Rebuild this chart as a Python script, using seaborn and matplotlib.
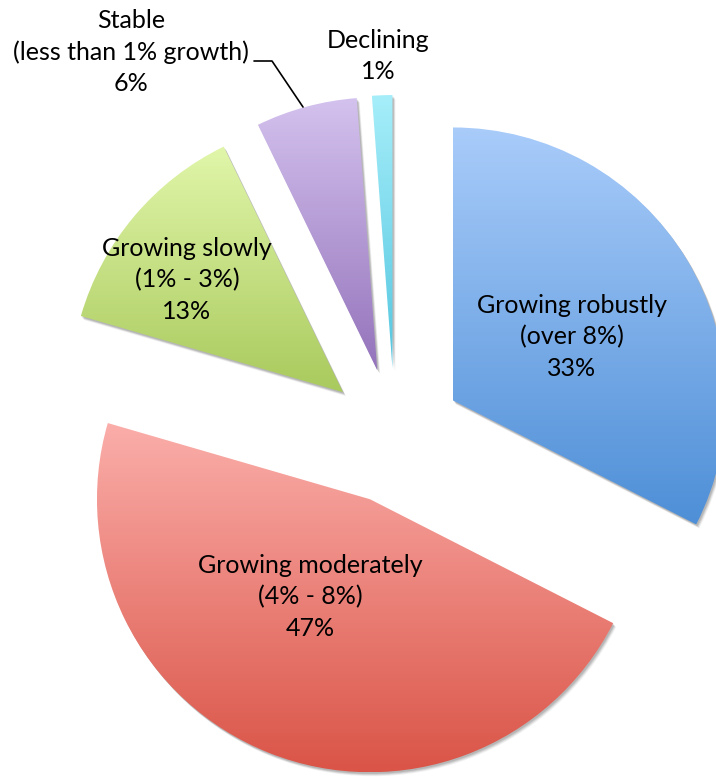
import numpy as np
import matplotlib
matplotlib.use("Agg")
import matplotlib.pyplot as plt
import seaborn as sns
from matplotlib.colors import LinearSegmentedColormap
from matplotlib.patches import Wedge

# ---- data ----
categories = ["Growing robustly\n(over 8%)", "Growing moderately\n(4% - 8%)",
              "Growing slowly\n(1% - 3%)", "Stable\n(less than 1% growth)", "Declining"]
shares = [32.5, 47.0, 13.3, 6.0, 1.2]
pct_labels = ["33%", "47%", "13%", "6%", "1%"]
top_colors = ["#A9CCFA", "#FBAEAA", "#E1F6AA", "#D4C2EE", "#A6EEFA"]
bottom_colors = ["#4E8FD7", "#DA5447", "#A9CA5D", "#9473BB", "#54C6DF"]

sns.set_theme(style="white")
plt.rcParams['font.family'] = ['Lato', 'DejaVu Sans']

W, H = 716, 777
fig = plt.figure(figsize=(W / 100, H / 100), dpi=100)
ax = fig.add_axes([0, 0, 1, 1])

R = 273
CX, CY = 395, H - 436
EXP = 68

wedges, _ = ax.pie(shares, startangle=90, counterclock=False, radius=R,
                   center=(CX, CY), explode=[EXP] * len(shares))

grad = np.linspace(0, 1, 256).reshape(-1, 1)
for w, ct, cb in zip(wedges, top_colors, bottom_colors):
    w.set_facecolor("none")
    w.set_edgecolor("none")
    # soft shadow
    for k, a in [(5, 0.05), (4, 0.07), (3, 0.09), (2, 0.1)]:
        sh = Wedge((w.center[0] + k * 0.6, w.center[1] - k * 0.8), w.r, w.theta1, w.theta2,
                   facecolor="black", edgecolor="none", alpha=a, zorder=0.5)
        ax.add_patch(sh)
    ext = w.get_path().get_extents()
    cmap = LinearSegmentedColormap.from_list("g", [cb, ct])
    im = ax.imshow(grad, cmap=cmap, origin="lower", aspect="auto",
                   extent=[ext.x0, ext.x1, ext.y0, ext.y1], zorder=1, interpolation="bilinear")
    im.set_clip_path(w)

ax.set_xlim(0, W)
ax.set_ylim(0, H)
ax.set_aspect("auto")
ax.axis("off")

fs = 18
ls = 1.42
label_pos = [(572, 337), (310, 597), (187, 280), (131, 52), (378, 56)]
for cat, p, (x, y) in zip(categories, pct_labels, label_pos):
    ax.text(x, H - y, f"{cat}\n{p}", ha="center", va="center", fontsize=fs,
            linespacing=ls, color="black", zorder=5)

# leader line for Stable
ax.plot([254, 272, 303], [H - 61, H - 61, H - 107], color="black", lw=1.2, zorder=5)

fig.savefig("out.png", dpi=100)
